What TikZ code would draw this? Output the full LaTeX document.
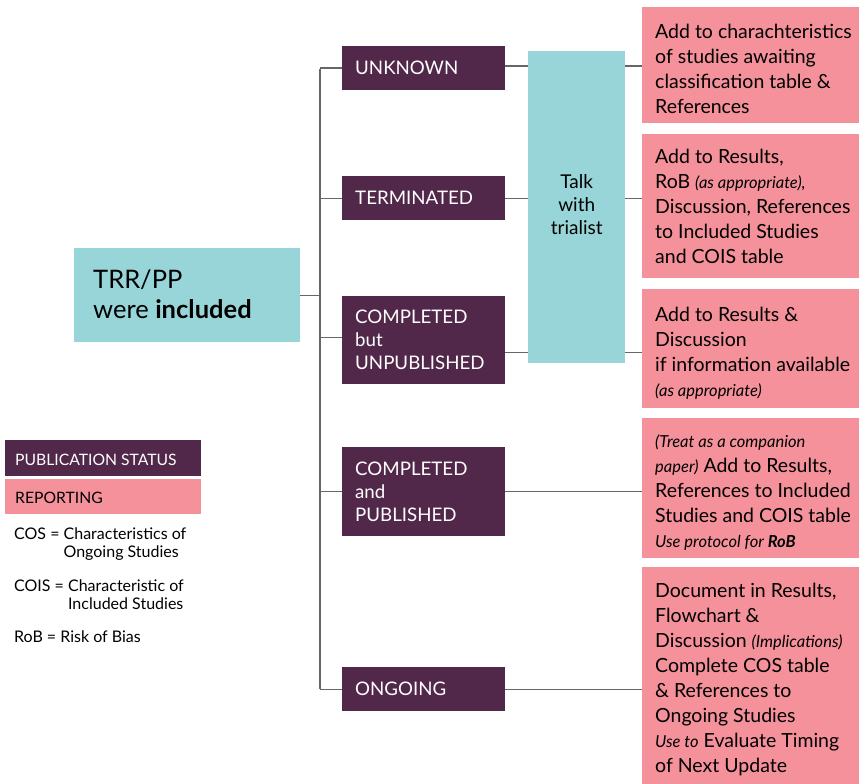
\documentclass[tikz,border=0pt]{standalone}
\usepackage{fontspec}
\setmainfont{Lato}
\definecolor{plum}{HTML}{52284A}
\definecolor{pinkc}{HTML}{F5919A}
\definecolor{tealc}{HTML}{98D5D9}
\definecolor{linec}{HTML}{666666}
\begin{document}
\begin{tikzpicture}[x=1pt,y=-1pt,
  box/.style={anchor=north west, inner sep=0pt, draw=none},
  pinkbox/.style={box, fill=pinkc},
  plumbox/.style={box, fill=plum},
  tealbox/.style={box, fill=tealc},
  pinktext/.style={anchor=west, align=left, inner sep=0pt, text=black, font=\fontsize{19.5}{25}\selectfont},
  plumtext/.style={anchor=west, align=left, inner sep=0pt, text=white, font=\fontsize{18.7}{23}\selectfont},
  legtext/.style={anchor=west, align=left, inner sep=0pt, font=\fontsize{16}{18}\selectfont},
  conn/.style={draw=linec, line width=1.4pt}
]
\useasboundingbox (0,0) rectangle (859,784);
\newcommand{\smit}[1]{{\fontsize{16.5}{25}\selectfont\itshape #1}}

% root
\node[tealbox, minimum width=226pt, minimum height=94pt] (trr) at (74,248) {};
\node[anchor=west, align=left, inner sep=0pt, font=\fontsize{25.5}{30}\selectfont] (trrt) at ([xshift=19pt,yshift=1pt]trr.west) {TRR/PP\\were \textbf{included}};

% publication status boxes
\node[plumbox, minimum width=163pt, minimum height=44pt] (unk) at (342,46) {};
\node[plumtext] (unkt) at ([xshift=13pt]unk.west) {UNKNOWN};
\node[plumbox, minimum width=163pt, minimum height=44pt] (ter) at (342,176) {};
\node[plumtext] (tert) at ([xshift=13pt]ter.west) {TERMINATED};
\node[plumbox, minimum width=163pt, minimum height=88pt] (unp) at (342,296) {};
\node[plumtext] (unpt) at ([xshift=13pt]unp.west) {COMPLETED\\but\\UNPUBLISHED};
\node[plumbox, minimum width=163pt, minimum height=89pt] (pub) at (342,447) {};
\node[plumtext] (pubt) at ([xshift=13pt]pub.west) {COMPLETED\\and\\PUBLISHED};
\node[plumbox, minimum width=163pt, minimum height=44pt] (ong) at (342,667) {};
\node[plumtext] (ongt) at ([xshift=13pt]ong.west) {ONGOING};

% talk with trialist
\node[tealbox, minimum width=97pt, minimum height=312pt] (talk) at (528,51) {};
\node[align=center, inner sep=0pt, font=\fontsize{19}{23}\selectfont] (talkt) at ([yshift=3pt]talk.center) {Talk\\with\\trialist};

% reporting boxes
\node[pinkbox, minimum width=217pt, minimum height=116pt] (r1) at (642,7) {};
\node[pinktext] (r1t) at ([xshift=13pt,yshift=-4pt]r1.west) {Add to charachteristics\\of studies awaiting\\classification table \&\\References};
\node[pinkbox, minimum width=217pt, minimum height=144pt] (r2) at (642,134) {};
\node[pinktext] (r2t) at ([xshift=13pt,yshift=0pt]r2.west) {Add to Results,\\RoB \smit{(as appropriate),}\\Discussion, References\\to Included Studies\\and COIS table};
\node[pinkbox, minimum width=217pt, minimum height=119pt] (r3) at (642,289) {};
\node[pinktext] (r3t) at ([xshift=13pt,yshift=-5pt]r3.west) {Add to Results \&\\Discussion\\if information available\\\smit{(as appropriate)}};
\node[pinkbox, minimum width=217pt, minimum height=140pt] (r4) at (642,418) {};
\node[pinktext] (r4t) at ([xshift=13pt,yshift=-4pt]r4.west) {\smit{(Treat as a companion}\\\smit{paper)} Add to Results,\\References to Included\\Studies and COIS table\\\smit{Use protocol for \textbf{RoB}}};
\node[pinkbox, minimum width=217pt, minimum height=217pt] (r5) at (642,567) {};
\node[pinktext] (r5t) at ([xshift=13pt,yshift=-4pt]r5.west) {Document in Results,\\Flowchart \&\\Discussion \smit{(Implications)}\\Complete COS table\\\& References to\\Ongoing Studies\\\smit{Use to} Evaluate Timing\\of Next Update};

% legend
\node[plumbox, minimum width=196pt, minimum height=36pt] (legp) at (5,440) {};
\node[legtext, text=white, font=\fontsize{15.7}{18}\selectfont] (legpt) at ([xshift=10pt,yshift=-2pt]legp.west) {PUBLICATION STATUS};
\node[pinkbox, minimum width=196pt, minimum height=35pt] (legr) at (5,479) {};
\node[legtext, font=\fontsize{15.7}{18}\selectfont] (legrt) at ([xshift=10pt,yshift=-1pt]legr.west) {REPORTING};
\node[legtext, anchor=north west] (cos) at (14,528) {COS = Characteristics of\\\phantom{COS = }Ongoing Studies};
\node[legtext, anchor=north west] (cois) at (14,580) {COIS = Characteristic of\\\phantom{COIS = }Included Studies};
\node[legtext, anchor=north west] (rob) at (14,631) {RoB = Risk of Bias};

% connectors
\coordinate (sTop) at (320,69);
\coordinate (sBot) at (320,689);
\draw[conn] (sTop) -- (sBot);
\draw[conn] (trr.east) -- (trr.east -| sTop);
\draw[conn] (unk.west) -- (unk.west -| sTop);
\draw[conn] (ter.west) -- (ter.west -| sTop);
\draw[conn] ([yshift=3pt]unp.west) -- ([yshift=3pt]unp.west -| sTop);
\draw[conn] (pub.west) -- (pub.west -| sTop);
\draw[conn] (ong.west) -- (ong.west -| sTop);

\coordinate (a1) at ([yshift=2pt]unk.east);
\coordinate (a2) at (ter.east);
\coordinate (a3) at ([yshift=-12pt]unp.east);
\draw[conn] (a1) -- (a1 -| talk.west);
\draw[conn] (a2) -- (a2 -| talk.west);
\draw[conn] (a3) -- (a3 -| talk.west);
\draw[conn] (a1 -| talk.east) -- (a1 -| r1.west);
\draw[conn] (a2 -| talk.east) -- (a2 -| r2.west);
\draw[conn] (a3 -| talk.east) -- (a3 -| r3.west);
\draw[conn] (pub.east) -- (pub.east -| r4.west);
\draw[conn] (ong.east) -- (ong.east -| r5.west);
\end{tikzpicture}
\end{document}
